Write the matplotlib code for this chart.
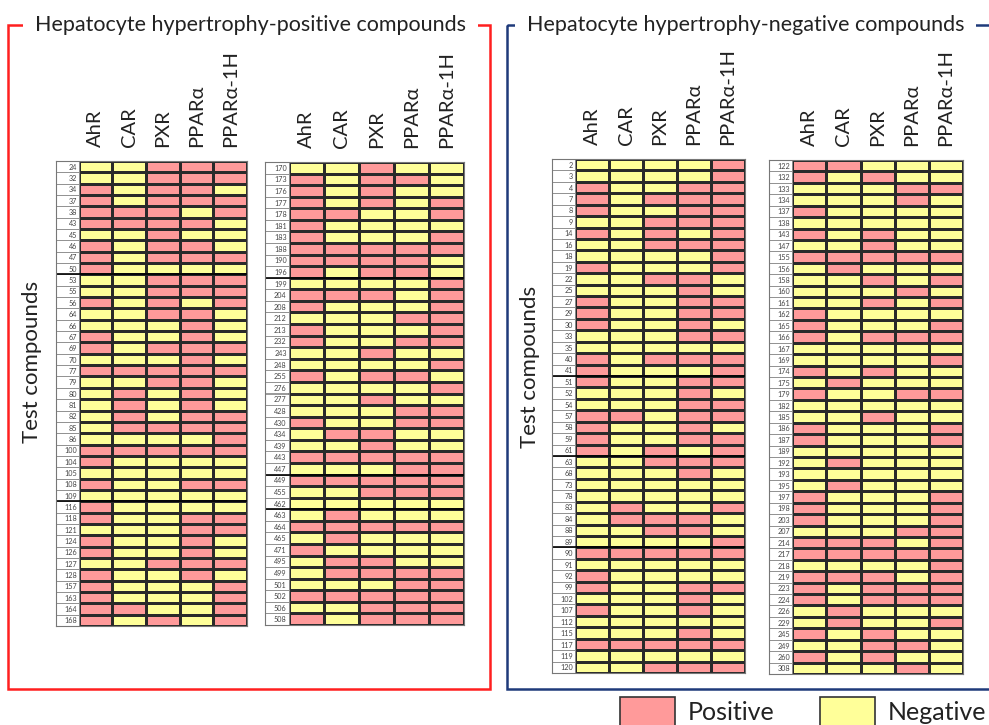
import numpy as np
import matplotlib
matplotlib.use("Agg")
import matplotlib.pyplot as plt
from matplotlib.colors import ListedColormap
from matplotlib.patches import Rectangle

plt.rcParams['font.family'] = ['Lato', 'DejaVu Sans']

W, H = 989, 725

receptors = ['AhR', 'CAR', 'PXR', 'PPARα', 'PPARα-1H']
legend_labels = ['Positive', 'Negative']
pos_color = '#ff9a9a'
neg_color = '#ffff99'

# 1 = positive, 0 = negative
pos1_ids = [24, 32, 34, 37, 38, 43, 45, 46, 47, 50, 53, 55, 56, 64, 66, 67, 69, 70, 77, 79,
            80, 81, 82, 85, 86, 100, 104, 105, 108, 109, 116, 118, 121, 124, 126, 127, 128,
            157, 163, 164, 168]
pos1_vals = ["00111", "00111", "10110", "10111", "11101", "11110", "00100", "10110", "10111",
             "10000", "00111", "00111", "10101", "00110", "00010", "10010", "10111", "00010",
             "11111", "00110", "01010", "01010", "01011", "01111", "00001", "11111", "10000",
             "00000", "10011", "00000", "10000", "10011", "00011", "10010", "10010", "00111",
             "10010", "10001", "10001", "11001", "10101"]

pos2_ids = [170, 173, 176, 177, 178, 181, 183, 188, 190, 196, 199, 204, 208, 212, 213, 232,
            243, 248, 255, 276, 277, 428, 430, 434, 439, 443, 447, 449, 455, 462, 463, 464,
            465, 471, 495, 499, 501, 502, 506, 508]
pos2_vals = ["00100", "10110", "10100", "10101", "11001", "10000", "10001", "11111", "11110",
             "10110", "00001", "11101", "10001", "00011", "10001", "10011", "00100", "00001",
             "10110", "00001", "00100", "00011", "10011", "01100", "00100", "11111", "00011",
             "11111", "00111", "00000", "01000", "11111", "01000", "10000", "01100", "01111",
             "00011", "11111", "00111", "10111"]

neg1_ids = [2, 3, 4, 7, 8, 9, 14, 16, 18, 19, 22, 25, 27, 29, 30, 33, 35, 40, 41, 51, 52, 54,
            57, 58, 59, 61, 63, 68, 73, 78, 83, 84, 88, 89, 90, 91, 92, 99, 102, 107, 112,
            115, 117, 119, 120]
neg1_vals = ["00001", "00001", "10011", "10111", "10011", "00111", "10101", "00111", "00001",
             "10001", "00110", "00010", "10011", "10011", "10010", "00011", "00000", "10111",
             "10001", "10011", "00010", "00011", "11011", "10010", "10011", "10101", "00111",
             "00010", "00000", "00000", "01001", "01110", "00110", "00001", "11111", "00000",
             "10000", "10011", "00010", "10010", "00000", "00010", "11111", "00000", "00111"]

neg2_ids = [122, 132, 133, 134, 137, 138, 143, 147, 155, 156, 158, 160, 161, 162, 165, 166,
            167, 169, 174, 175, 179, 182, 185, 186, 187, 189, 192, 193, 195, 197, 198, 203,
            207, 214, 217, 218, 219, 223, 224, 226, 229, 245, 249, 260, 308]
neg2_vals = ["11000", "10100", "00011", "00010", "10000", "00000", "10100", "00100", "11111",
             "01000", "00101", "00010", "00101", "10000", "10001", "10111", "00000", "00001",
             "10100", "01000", "10011", "00000", "00100", "10001", "10001", "00000", "01000",
             "00000", "01000", "10001", "10001", "10001", "00011", "11101", "11111", "00001",
             "11101", "10111", "10111", "01000", "01001", "10100", "00110", "10100", "00010"]

# rows after which the sheet has a heavier rule
pos1_breaks = [10, 30]
pos2_breaks = [10, 27, 30]
neg1_breaks = [19, 26, 34]
neg2_breaks = []

fig = plt.figure(figsize=(W / 100, H / 100), dpi=100)

# frame layer in pixel coordinates
bg = fig.add_axes([0, 0, 1, 1])
bg.set_xlim(0, W)
bg.set_ylim(H, 0)
bg.axis('off')

red = '#ff1f1f'
blue = '#1f3a7a'
bg.add_patch(Rectangle((8, 25), 482, 664, fill=False, edgecolor=red, lw=1.8))
bg.add_patch(Rectangle((507, 25), 520, 664, fill=False, edgecolor=blue, lw=1.8, clip_on=True))
bg.text(35, 25, 'Hepatocyte hypertrophy-positive compounds', fontsize=15.5, ha='left', va='center',
        color='#222222', bbox=dict(boxstyle='square,pad=0.55', fc='white', ec='none'))
bg.text(527, 25, 'Hepatocyte hypertrophy-negative compounds', fontsize=15.5, ha='left', va='center',
        color='#222222', bbox=dict(boxstyle='square,pad=0.55', fc='white', ec='none'))
bg.text(32, 362, 'Test compounds', fontsize=16, rotation=90, ha='center', va='center', color='#222222')
bg.text(530, 367, 'Test compounds', fontsize=16, rotation=90, ha='center', va='center', color='#222222')

# legend
for (x0, lab, col) in zip([620, 820], legend_labels, [pos_color, neg_color]):
    bg.add_patch(Rectangle((x0, 697), 55, 40, facecolor=col, edgecolor='#333333', lw=1.2))
    bg.text(x0 + 68, 712, lab, fontsize=18, ha='left', va='center', color='#222222')

cmap = ListedColormap([neg_color, pos_color])
lab_w = 0.68


def draw_grid(box, ids, vals, breaks):
    l, t, r, b = box
    ax = fig.add_axes([l / W, 1 - b / H, (r - l) / W, (b - t) / H])
    data = np.array([[int(c) for c in v] for v in vals])
    n = len(ids)
    ax.pcolormesh(np.arange(6), np.arange(n + 1), data, cmap=cmap, vmin=0, vmax=1,
                  edgecolors='#2a2a2a', linewidth=0.8)
    ax.barh(np.arange(n) + 0.5, lab_w, left=-lab_w, height=1, color='white',
            edgecolor='#888888', linewidth=0.6)
    for i, cid in enumerate(ids):
        ax.text(-0.06, i + 0.55, str(cid), ha='right', va='center', fontsize=5.2, color='#444444')
    for k in breaks:
        ax.axhline(k, color='black', lw=1.2)
    ax.set_xlim(-lab_w, 5)
    ax.set_ylim(n, 0)
    ax.xaxis.tick_top()
    ax.set_xticks(np.arange(5) + 0.5)
    ax.set_xticklabels(receptors, rotation=90, fontsize=14.5, color='#222222')
    ax.tick_params(axis='x', length=0, pad=10)
    ax.set_yticks([])
    for s in ax.spines.values():
        s.set_color('#777777')
        s.set_linewidth(0.8)
    return ax


draw_grid((56, 161, 247, 626), pos1_ids, pos1_vals, pos1_breaks)
draw_grid((265, 162, 464, 625), pos2_ids, pos2_vals, pos2_breaks)
draw_grid((552, 159, 745, 673), neg1_ids, neg1_vals, neg1_breaks)
draw_grid((769, 160, 963, 674), neg2_ids, neg2_vals, neg2_breaks)

fig.savefig('out.png', dpi=100)
